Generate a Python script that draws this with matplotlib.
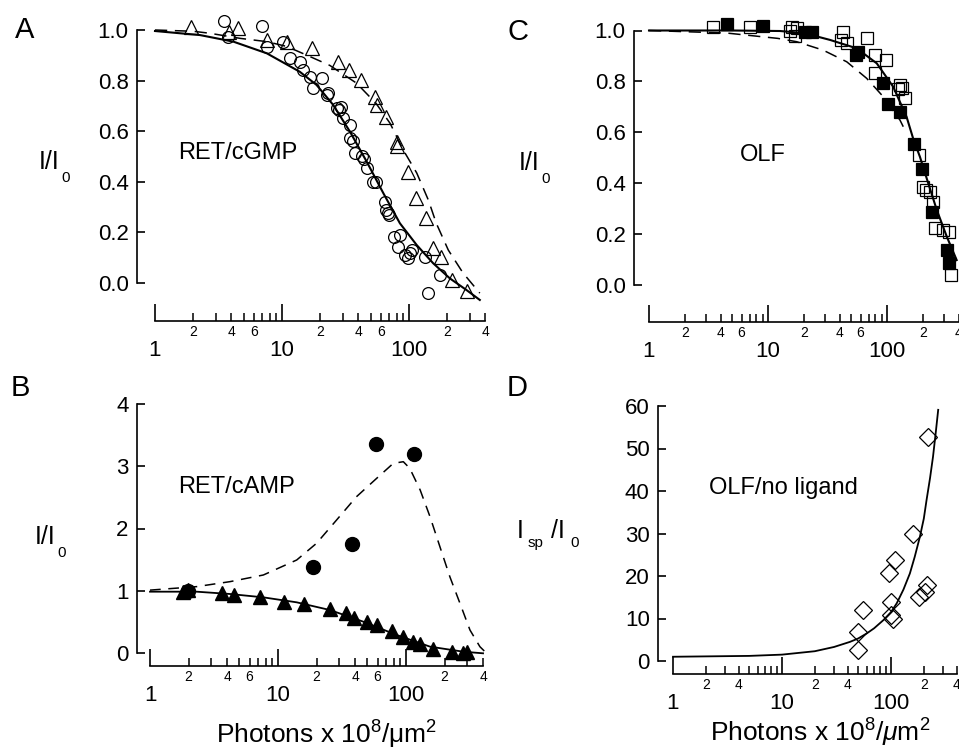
import numpy as np
import matplotlib.pyplot as plt
from matplotlib.ticker import FixedLocator, FixedFormatter

plt.rcParams['font.family'] = ['Liberation Sans', 'DejaVu Sans']
plt.rcParams['mathtext.fontset'] = 'custom'
plt.rcParams['mathtext.rm'] = 'Liberation Sans'
plt.rcParams['mathtext.it'] = 'Liberation Sans:italic'

# ---- panel A : RET/cGMP ----
a_circ_x = [3.49, 3.78, 6.92, 7.58, 10.2, 11.6, 13.8, 14.7, 16.6, 17.6, 20.5, 23.2, 22.5, 27, 28, 29,
            30.4, 34.3, 34.3, 36, 37.6, 42.4, 44, 46.4, 52.4, 55, 64.7, 66, 68.7, 70, 75.6, 82.4, 84.8,
            93, 98.8, 102, 105, 134, 175, 142]
a_circ_y = [1.037, 0.974, 1.016, 0.934, 0.954, 0.888, 0.875, 0.842, 0.815, 0.77, 0.809, 0.75, 0.743, 0.69,
            0.684, 0.695, 0.651, 0.625, 0.572, 0.56, 0.513, 0.5, 0.49, 0.453, 0.4, 0.4, 0.321, 0.29, 0.276,
            0.27, 0.183, 0.143, 0.19, 0.11, 0.1, 0.117, 0.13, 0.104, 0.032, -0.041]
a_tri_x = [1.91, 3.85, 4.48, 7.58, 10.9, 17.1, 27.8, 33.7, 41.9, 54, 55.7, 65.9, 80, 80, 98.8, 113, 135,
           155, 178, 217, 284]
a_tri_y = [1.01, 0.993, 1.007, 0.96, 0.954, 0.927, 0.875, 0.842, 0.802, 0.737, 0.704, 0.657, 0.559, 0.54,
           0.44, 0.335, 0.256, 0.137, 0.104, 0.012, -0.032]
a_fit_x = [1, 2.26, 4.14, 7.58, 13.8, 18.7, 25.3, 34.3, 46.4, 62.8, 84.8, 115, 155, 210, 284, 361]
a_fit_y = [0.996, 0.98, 0.954, 0.908, 0.835, 0.783, 0.704, 0.598, 0.48, 0.355, 0.236, 0.15, 0.078, 0.018,
           -0.028, -0.067]
a_dash_x = [1, 2, 2.71, 4.67, 7.6, 10.9, 16.6, 23.8, 38.6, 55, 71, 90, 115, 142, 164, 204, 266, 361]
a_dash_y = [1.0, 0.995, 0.987, 0.967, 0.954, 0.935, 0.895, 0.86, 0.79, 0.71, 0.631, 0.526, 0.435, 0.328,
            0.236, 0.13, 0.04, -0.04]

# ---- panel B : RET/cAMP ----
b_circ_x = [1.99, 18.9, 37.6, 58.3, 116]
b_circ_y = [1.0, 1.387, 1.75, 3.357, 3.197]
b_tri_x = [1.82, 1.99, 3.63, 4.53, 7.23, 11.2, 16.0, 25.5, 34, 39.5, 49.9, 59, 77.3, 95.3, 113, 129, 162,
           228, 280, 301]
b_tri_y = [0.985, 1.01, 0.969, 0.932, 0.894, 0.825, 0.787, 0.707, 0.648, 0.568, 0.493, 0.45, 0.358, 0.262,
           0.182, 0.145, 0.064, 0.011, 0.005, 0.021]
b_fit_x = [1, 2.31, 4.21, 7.68, 14, 25.5, 46.4, 84.6, 154, 280, 400]
b_fit_y = [0.985, 0.985, 0.948, 0.894, 0.814, 0.69, 0.503, 0.289, 0.102, 0.021, -0.005]
b_dash_x = [1, 2.31, 4.21, 7.68, 14, 20, 28.7, 41, 59, 79.6, 95.3, 107, 129, 154, 184, 220, 264, 316, 378,
            414]
b_dash_y = [1.01, 1.066, 1.146, 1.253, 1.494, 1.762, 2.137, 2.51, 2.806, 3.047, 3.073, 2.967, 2.619, 2.19,
            1.708, 1.226, 0.798, 0.369, 0.101, 0.021]

# ---- panel C : OLF ----
c_fill_x = [4.55, 9.13, 20.5, 23.3, 54.9, 57.4, 93, 102.6, 128.5, 168.6, 195.6, 240, 317.5, 333]
c_fill_y = [1.026, 1.018, 0.995, 0.993, 0.904, 0.917, 0.795, 0.711, 0.681, 0.554, 0.455, 0.288, 0.138,
            0.085]
c_open_x = [3.47, 7.06, 15.3, 15.8, 17.4, 16.9, 42.9, 41.4, 45.9, 67.5, 79.3, 98.6, 79.3, 124, 128.5, 132.8,
            141.6, 186.8, 201, 214, 230, 244, 253, 296, 333, 347]
c_open_y = [1.015, 1.012, 1.0, 1.015, 1.008, 0.978, 0.995, 0.963, 0.95, 0.969, 0.904, 0.884, 0.834, 0.77,
            0.786, 0.773, 0.734, 0.511, 0.386, 0.373, 0.367, 0.327, 0.223, 0.216, 0.209, 0.039]
c_fit_x = [1, 5, 12.6, 20, 33.2, 55.6, 82, 112.7, 146, 166, 189, 222, 262, 318, 385]
c_fit_y = [1.0, 1.0, 0.998, 0.99, 0.963, 0.93, 0.871, 0.779, 0.661, 0.575, 0.504, 0.4, 0.295, 0.19, 0.098]
c_dash_x = [1, 4.5, 12.1, 17.4, 29, 45.9, 67.5, 93, 128.5, 137]
c_dash_y = [1.0, 0.99, 0.969, 0.956, 0.923, 0.877, 0.812, 0.74, 0.648, 0.622]

# ---- panel D : OLF/no ligand ----
d_dia_x = [220, 160, 109, 96.5, 101, 101, 104, 55.7, 50.1, 50.1, 212, 182, 205]
d_dia_y = [52.8, 30.0, 23.8, 20.8, 14.0, 10.8, 10.0, 12.0, 6.9, 2.6, 17.9, 15.1, 16.3]
d_fit_x = [1, 5, 10, 20, 30, 42, 50, 60, 70, 85, 100, 113, 130, 149, 165, 184, 200, 212, 228, 243, 258, 271]
d_fit_y = [1.0, 1.2, 1.5, 2.3, 3.3, 4.5, 5.3, 6.5, 7.7, 9.6, 11.5, 13.6, 16.8, 20.6, 24.5, 29.2, 33.5, 37.9,
           43.0, 48.1, 54.0, 59.1]

minor_ticks = [2, 3, 4, 5, 6, 7, 8, 9, 20, 30, 40, 50, 60, 70, 80, 90, 200, 300, 400]
minor_lab = ['2', '', '4', '', '6', '', '', '', '2', '', '4', '', '6', '', '', '', '2', '', '4']
minor_lab_d = ['2', '', '4', '', '', '', '', '', '2', '', '4', '', '', '', '', '', '2', '', '4']

W, H = 959, 752
fig = plt.figure(figsize=(W / 100, H / 100), dpi=100)


def px_axes(left, top, right, bottom):
    return fig.add_axes([left / W, 1 - bottom / H, (right - left) / W, (bottom - top) / H])


def ftext(x, y, s, **kw):
    fig.text(x / W, 1 - y / H, s, ha='center', va='center', **kw)


def style(ax, xlim, ylim, yticks, ylabels, mlabels):
    ax.set_xscale('log')
    ax.set_xlim(*xlim)
    ax.set_ylim(*ylim)
    ax.patch.set_visible(False)
    for s in ['top', 'right']:
        ax.spines[s].set_visible(False)
    for s in ['left', 'bottom']:
        ax.spines[s].set_linewidth(1.2)
    ax.spines['left'].set_bounds(yticks[0], yticks[-1])
    ax.spines['bottom'].set_bounds(1, 400)
    ax.set_yticks(yticks)
    ax.set_yticklabels(ylabels)
    ax.tick_params(axis='y', direction='in', length=6, width=1.2, labelsize=16, pad=6)
    ax.xaxis.set_major_locator(FixedLocator([1, 10, 100]))
    ax.xaxis.set_major_formatter(FixedFormatter(['1', '10', '100']))
    ax.xaxis.set_minor_locator(FixedLocator(minor_ticks))
    ax.xaxis.set_minor_formatter(FixedFormatter(mlabels))
    ax.tick_params(axis='x', which='major', direction='in', length=12, width=1.2, labelsize=16, pad=14)
    ax.tick_params(axis='x', which='minor', direction='in', length=6, width=1.1, labelsize=10, pad=3)


# A
axA = px_axes(137, 12, 486, 321)
style(axA, (10 ** (-18 / 127), 10 ** (331 / 127)), (-38 / 253, 271 / 253),
      [0, 0.2, 0.4, 0.6, 0.8, 1.0], ['0.0', '0.2', '0.4', '0.6', '0.8', '1.0'], minor_lab)
axA.plot(a_fit_x, a_fit_y, color='black', lw=1.5, clip_on=False)
axA.plot(a_dash_x, a_dash_y, color='black', lw=1.1, dashes=(8, 5), clip_on=False)
axA.plot(a_circ_x, a_circ_y, 'o', ms=8.5, mfc='none', mec='black', mew=0.9, clip_on=False)
axA.plot(a_tri_x, a_tri_y, '^', ms=9.5, mfc='none', mec='black', mew=0.9, clip_on=False)

# C
axC = px_axes(634, 12, 959, 322)
style(axC, (10 ** (-15 / 119), 10 ** (310 / 119)), (-37 / 254.5, 273 / 254.5),
      [0, 0.2, 0.4, 0.6, 0.8, 1.0], ['0.0', '0.2', '0.4', '0.6', '0.8', '1.0'], minor_lab)
axC.plot(c_fit_x, c_fit_y, color='black', lw=1.5, clip_on=False)
axC.plot(c_dash_x, c_dash_y, color='black', lw=1.1, dashes=(8, 5), clip_on=False)
axC.plot(c_open_x, c_open_y, 's', ms=8.5, mfc='none', mec='black', mew=0.9, clip_on=False)
axC.plot(c_fill_x, c_fill_y, 's', ms=8.5, mfc='black', mec='black', mew=0.9, clip_on=False)

# B
axB = px_axes(137, 398, 486, 666)
style(axB, (10 ** (-13 / 128), 10 ** (336 / 128)), (-13 / 62.25, 255 / 62.25),
      [0, 1, 2, 3, 4], ['0', '1', '2', '3', '4'], minor_lab)
axB.plot(b_fit_x, b_fit_y, color='black', lw=1.3, clip_on=False)
axB.plot(b_dash_x, b_dash_y, color='black', lw=1.1, dashes=(7, 5), clip_on=False)
axB.plot(b_tri_x, b_tri_y, '^', ms=10, mfc='black', mec='black', clip_on=False)
axB.plot(b_circ_x, b_circ_y, 'o', ms=10, mfc='black', mec='black', clip_on=False)

# D
axD = px_axes(658, 398, 959, 674)
style(axD, (10 ** (-15 / 109), 10 ** (286 / 109)), (-13 / 4.25, 263 / 4.25),
      [0, 10, 20, 30, 40, 50, 60], ['0', '10', '20', '30', '40', '50', '60'], minor_lab_d)
axD.plot(d_fit_x, d_fit_y, color='black', lw=1.3, clip_on=False)
axD.plot(d_dia_x, d_dia_y, 'D', ms=9.5, mfc='none', mec='black', mew=0.9, clip_on=False)

# panel letters and labels
for x, y, s in [(25, 30, 'A'), (20, 388, 'B'), (518, 32, 'C'), (517, 388, 'D')]:
    ftext(x, y, s, fontsize=21)
ftext(238, 153, 'RET/cGMP', fontsize=17)
ftext(763, 155, 'OLF', fontsize=17)
ftext(237, 487, 'RET/cAMP', fontsize=17)
ftext(783, 488, 'OLF/no ligand', fontsize=17)

for x, y in [(49, 162), (529, 163), (45, 537)]:
    ftext(x, y, 'I/I', fontsize=18)
    ftext(x + 17, y + 16, '0', fontsize=11)
ftext(520, 531, 'I', fontsize=18)
ftext(535, 543, 'sp', fontsize=11)
ftext(558, 531, '/I', fontsize=18)
ftext(575, 543, '0', fontsize=11)

ftext(327, 735, r'Photons x 10$^{\mathrm{8}}$/$\mathrm{\mu}$m$^{\mathrm{2}}$', fontsize=19)
ftext(820, 733, r'Photons x 10$^{\mathrm{8}}$/$\mu$m$^{\mathrm{2}}$', fontsize=19)

fig.savefig('out.png', dpi=100)
